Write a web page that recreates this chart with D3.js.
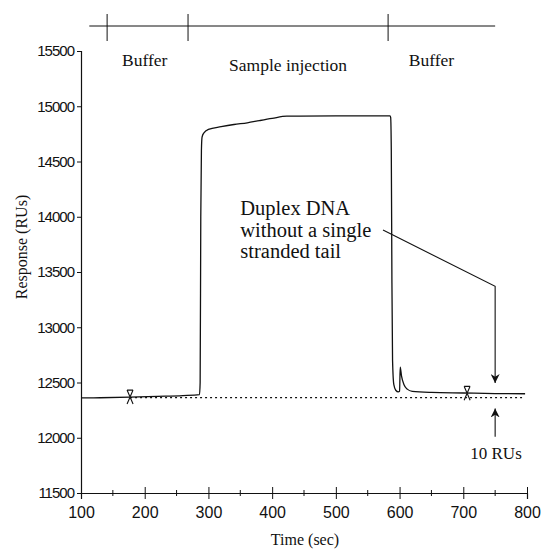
<!DOCTYPE html>
<html>
<head>
<meta charset="utf-8">
<script src="https://cdn.jsdelivr.net/npm/d3@7"></script>
<style>
  body { margin: 0; background: #fff; }
  svg { display: block; }
  .serif { font-family: "Liberation Serif", "Times New Roman", serif; fill: #111; }
  .ytick text { font-family: "Liberation Sans Narrow", "Liberation Sans", Arial, sans-serif; font-size: 15px; letter-spacing: -1px; fill: #111; }
  .xtick text { font-family: "Liberation Sans", Arial, sans-serif; font-size: 16px; fill: #111; }
</style>
</head>
<body>
<div id="chart"></div>
<script>
  // Sensorgram trace (time in sec, response in RUs)
  const traceTime = [100, 130, 177, 220, 260, 286, 287, 288, 289, 290, 293, 300, 320, 340, 361, 380, 400, 423, 500, 585,
    586, 587, 588, 589, 591, 594, 598, 600, 601, 603, 607, 612, 620, 650, 700, 750, 797];
  const traceValue = [12360, 12362, 12368, 12375, 12382, 12390, 12500, 14000, 14600, 14720, 14760, 14790, 14815, 14835, 14850, 14870, 14890, 14910, 14912, 14912,
    14900, 14600, 13400, 12700, 12480, 12430, 12415, 12420, 12640, 12560, 12480, 12440, 12420, 12410, 12405, 12400, 12398];

  // dotted reference baseline
  const refTime = [177, 795];
  const refValue = [12364, 12364];

  // report points (X markers)
  const markTime = [177, 706];
  const markValue = [12368, 12402];

  // phase bar on top
  const phaseStart = 113;
  const phaseEnd = 750;
  const phaseTicks = [141, 268, 582];
  const phaseLabels = ["Buffer", "Sample injection", "Buffer"];
  const phaseLabelTime = [200, 425, 650];

  const xTicks = [100, 200, 300, 400, 500, 600, 700, 800];
  const yTicks = [11500, 12000, 12500, 13000, 13500, 14000, 14500, 15000, 15500];

  const annotationLines = ["Duplex DNA", "without a single", "stranded tail"];

  ///////////////////////////////////////////////////////////// ! Setup
  const W = 542, H = 550;
  const svg = d3.select("#chart").append("svg").attr("width", W).attr("height", H);

  const x = d3.scaleLinear().domain([100, 800]).range([81, 527]);
  const y = d3.scaleLinear().domain([11500, 15500]).range([493, 51]);
  const ink = "#111";

  ///////////////////////////////////////////////////////////// ! Axes
  const xAxis = svg.append("g")
    .attr("class", "xtick")
    .attr("transform", `translate(0,${y(11500)})`)
    .call(d3.axisBottom(x).tickValues(xTicks).tickSize(6).tickPadding(8).tickFormat(d3.format("d")));
  xAxis.selectAll(".tick line").attr("y1", -6);
  // minor ticks
  xAxis.selectAll(".minor").data(d3.range(150, 800, 100)).enter().append("line")
    .attr("x1", (d) => x(d)).attr("x2", (d) => x(d)).attr("y1", -3).attr("y2", 3)
    .attr("stroke", ink);

  const yAxis = svg.append("g")
    .attr("class", "ytick")
    .attr("transform", `translate(${x(100)},0)`)
    .call(d3.axisLeft(y).tickValues(yTicks).tickSize(4).tickPadding(3).tickFormat(d3.format("d")));

  svg.selectAll(".domain").attr("stroke", ink).attr("stroke-width", 1.2);
  svg.selectAll(".tick line").attr("stroke", ink);

  svg.append("text").attr("class", "serif")
    .attr("x", (x(100) + x(800)) / 2 + 1).attr("y", 545)
    .attr("text-anchor", "middle").style("font-size", "16px")
    .text("Time (sec)");

  svg.append("text").attr("class", "serif")
    .attr("transform", `translate(27,${y(13500) - 25}) rotate(-90)`)
    .attr("text-anchor", "middle").style("font-size", "16px")
    .text("Response (RUs)");

  ///////////////////////////////////////////////////////////// ! Phase bar
  const barY = 26;
  svg.append("line")
    .attr("x1", x(phaseStart)).attr("x2", x(phaseEnd))
    .attr("y1", barY).attr("y2", barY)
    .attr("stroke", ink).attr("stroke-width", 1);
  svg.selectAll(".phase-tick").data(phaseTicks).enter().append("line")
    .attr("x1", (d) => x(d)).attr("x2", (d) => x(d))
    .attr("y1", barY - 12).attr("y2", barY + 15)
    .attr("stroke", ink).attr("stroke-width", 1);
  svg.selectAll(".phase-label").data(phaseLabels).enter().append("text")
    .attr("class", "serif")
    .attr("x", (d, i) => x(phaseLabelTime[i]))
    .attr("y", (d, i) => (i === 1 ? 71 : 66))
    .attr("text-anchor", "middle").style("font-size", "17.5px")
    .text((d) => d);

  ///////////////////////////////////////////////////////////// ! Data
  const traceData = traceTime.map((t, i) => [t, traceValue[i]]);
  svg.append("path")
    .datum(traceData)
    .attr("fill", "none").attr("stroke", ink).attr("stroke-width", 1.3)
    .attr("d", d3.line().x((d) => x(d[0])).y((d) => y(d[1])).curve(d3.curveMonotoneX));

  svg.append("path")
    .datum(refTime.map((t, i) => [t, refValue[i]]))
    .attr("fill", "none").attr("stroke", ink).attr("stroke-width", 1.2)
    .attr("stroke-dasharray", "2,3")
    .attr("d", d3.line().x((d) => x(d[0])).y((d) => y(d[1])));

  // X-shaped report point markers
  const marks = svg.selectAll(".mark").data(markTime).enter().append("g")
    .attr("transform", (d, i) => `translate(${x(d)},${y(markValue[i])})`);
  marks.append("path")
    .attr("d", "M-3,-7 L3,7 M3,-7 L-3,7 M-3,-7 L3,-7")
    .attr("stroke", ink).attr("stroke-width", 1.1).attr("fill", "none");

  ///////////////////////////////////////////////////////////// ! Annotations
  svg.append("defs").append("marker")
    .attr("id", "arrowhead").attr("viewBox", "0 0 10 10")
    .attr("refX", 10).attr("refY", 5)
    .attr("markerWidth", 9).attr("markerHeight", 9)
    .attr("markerUnits", "userSpaceOnUse")
    .attr("orient", "auto")
    .append("path").attr("d", "M0,0 L10,5 L0,10 L3,5 Z").attr("fill", ink);

  svg.selectAll(".anno").data(annotationLines).enter().append("text")
    .attr("class", "serif")
    .attr("x", x(350))
    .attr("y", (d, i) => 215 + i * 21.5)
    .style("font-size", "20.5px")
    .text((d) => d);

  svg.append("path")
    .datum([[574, 13880], [750, 13370], [750, 12495]])
    .attr("fill", "none").attr("stroke", ink).attr("stroke-width", 1.1)
    .attr("marker-end", "url(#arrowhead)")
    .attr("d", d3.line().x((d) => x(d[0])).y((d) => y(d[1])));

  svg.append("path")
    .datum([[750, 12010], [750, 12265]])
    .attr("fill", "none").attr("stroke", ink).attr("stroke-width", 1.1)
    .attr("marker-end", "url(#arrowhead)")
    .attr("d", d3.line().x((d) => x(d[0])).y((d) => y(d[1])));

  svg.append("text").attr("class", "serif")
    .attr("x", x(711)).attr("y", 459)
    .style("font-size", "17px")
    .text("10 RUs");
</script>
</body>
</html>
